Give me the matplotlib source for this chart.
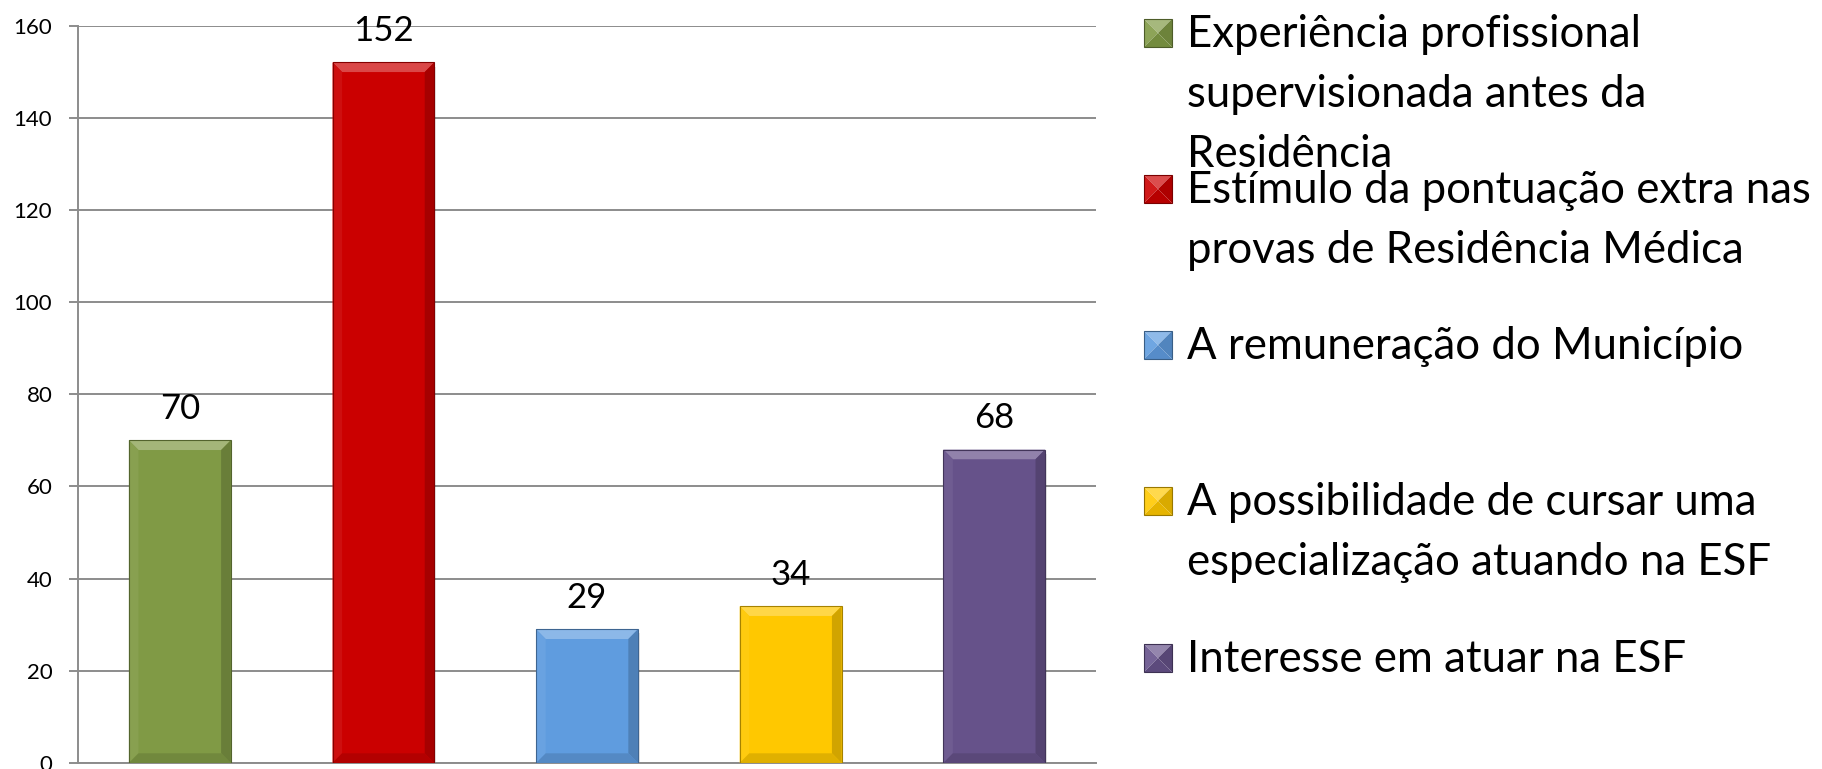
import matplotlib
matplotlib.use("Agg")
import matplotlib.pyplot as plt
from matplotlib.patches import Polygon, Rectangle
import numpy as np

# Motivos e número de respostas
motivos = [
    "Experiência profissional\nsupervisionada antes da\nResidência",
    "Estímulo da pontuação extra nas\nprovas de Residência Médica",
    "A remuneração do Município",
    "A possibilidade de cursar uma\nespecialização atuando na ESF",
    "Interesse em atuar na ESF",
]
respostas = [70, 152, 29, 34, 68]
cores = ["#809A45", "#CB0000", "#5F9CDF", "#FFC800", "#66528A"]
yticks = [0, 20, 40, 60, 80, 100, 120, 140, 160]

plt.rcParams["font.family"] = ["Lato", "DejaVu Sans"]

W, H = 1822, 769
fig = plt.figure(figsize=(W / 100, H / 100), dpi=100)
ax = fig.add_axes([78 / W, 6 / H, (1096 - 78) / W, (763 - 25.5) / H])

x = np.arange(len(respostas))
barras = ax.bar(x, respostas, width=0.5, color=cores, zorder=3)

ax.set_xlim(-0.5, len(respostas) - 0.5)
ax.set_ylim(0, 160)
ax.set_yticks(yticks)
ax.set_xticks([])
ax.yaxis.grid(True, color="#8C8C8C", linewidth=1.4, zorder=0)
for lado in ["top", "right"]:
    ax.spines[lado].set_visible(False)
for lado in ["left", "bottom"]:
    ax.spines[lado].set_color("#8C8C8C")
    ax.spines[lado].set_linewidth(1.4)
ax.tick_params(axis="y", length=6.5, width=1.4, color="#8C8C8C", pad=12, labelsize=16)

def mistura(cor, alvo, t):
    c = np.array(matplotlib.colors.to_rgb(cor))
    return tuple(c + (np.array(alvo) - c) * t)

# Efeito de chanfro nas barras
bx = 0.047
by = 2.1
for b, cor in zip(barras, cores):
    x0, w, h = b.get_x(), b.get_width(), b.get_height()
    x1 = x0 + w
    # sombra
    ax.add_patch(Rectangle((x0 + 0.008, -0.9), w, h, color="#000000", alpha=0.1, zorder=2, lw=0))
    topo = [(x0, h), (x1, h), (x1 - bx, h - by), (x0 + bx, h - by)]
    esq = [(x0, 0), (x0, h), (x0 + bx, h - by), (x0 + bx, by)]
    dir_ = [(x1, 0), (x1, h), (x1 - bx, h - by), (x1 - bx, by)]
    base = [(x0, 0), (x1, 0), (x1 - bx, by), (x0 + bx, by)]
    ax.add_patch(Polygon(topo, closed=True, color=mistura(cor, (1, 1, 1), 0.28), lw=0, zorder=4))
    ax.add_patch(Polygon(esq, closed=True, color=mistura(cor, (1, 1, 1), 0.06), lw=0, zorder=4))
    ax.add_patch(Polygon(dir_, closed=True, color=mistura(cor, (0, 0, 0), 0.18), lw=0, zorder=4))
    ax.add_patch(Polygon(base, closed=True, color=mistura(cor, (0, 0, 0), 0.12), lw=0, zorder=4))
    ax.add_patch(Rectangle((x0, 0), w, h, fill=False, ec=mistura(cor, (0, 0, 0), 0.35), lw=0.8, zorder=5))
    ax.annotate(str(h), (x0 + w / 2, h), xytext=(0, 15.5), textcoords="offset points",
                ha="center", va="baseline", fontsize=25)

# Legenda desenhada à direita, marcadores em pirâmide
y_legenda = [33, 189, 345, 501, 658]
lado = 28
mx0 = 1144
entrelinha = 60
for motivo, cor, yl in zip(motivos, cores, y_legenda):
    xa, xb = mx0 / W, (mx0 + lado) / W
    ya, yb = 1 - (yl + lado / 2) / H, 1 - (yl - lado / 2) / H
    xc, yc = (xa + xb) / 2, (ya + yb) / 2
    faces = [
        ([(xa, yb), (xb, yb), (xc, yc)], mistura(cor, (1, 1, 1), 0.3)),
        ([(xa, ya), (xa, yb), (xc, yc)], mistura(cor, (1, 1, 1), 0.1)),
        ([(xb, ya), (xb, yb), (xc, yc)], mistura(cor, (0, 0, 0), 0.15)),
        ([(xa, ya), (xb, ya), (xc, yc)], mistura(cor, (0, 0, 0), 0.1)),
    ]
    for pts, c in faces:
        fig.patches.append(Polygon(pts, closed=True, transform=fig.transFigure,
                                   facecolor=c, lw=0))
    fig.patches.append(Rectangle((xa, ya), xb - xa, yb - ya, transform=fig.transFigure,
                                 fill=False, edgecolor=mistura(cor, (0, 0, 0), 0.4), lw=0.8))
    for i, linha in enumerate(motivo.split("\n")):
        fig.text(1187 / W, 1 - (yl + 14 + i * entrelinha) / H, linha,
                 ha="left", va="baseline", fontsize=31.5)

fig.savefig("out.png", dpi=100)
